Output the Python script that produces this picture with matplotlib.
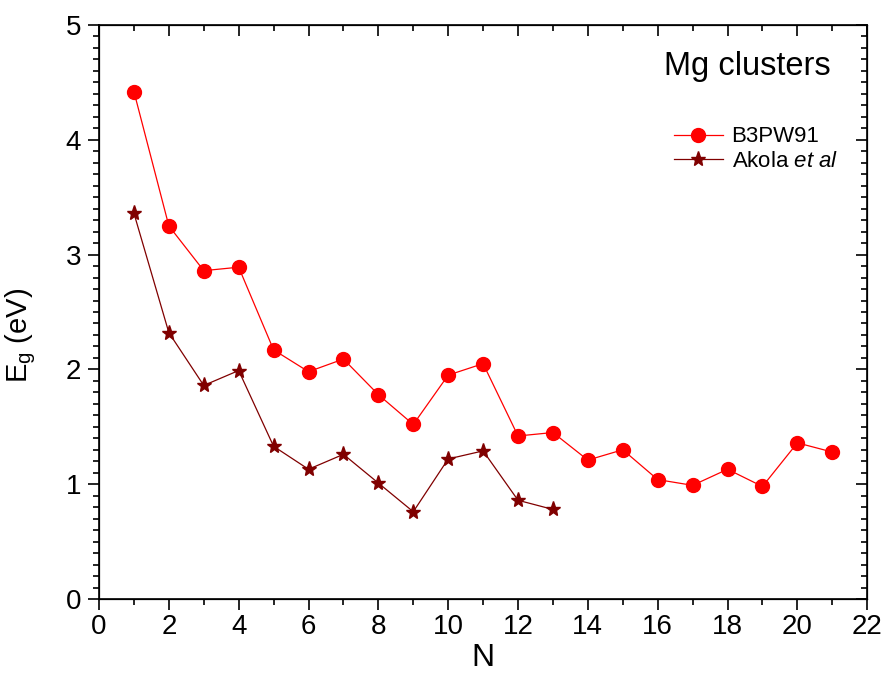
import matplotlib
matplotlib.use("Agg")
import matplotlib.pyplot as plt
from matplotlib.ticker import MultipleLocator

plt.rcParams['font.family'] = ['Liberation Sans', 'DejaVu Sans']
plt.rcParams['mathtext.fontset'] = 'custom'
plt.rcParams['mathtext.rm'] = 'Liberation Sans'
plt.rcParams['mathtext.it'] = 'Liberation Sans:italic'

n_b3 = list(range(1, 22))
eg_b3 = [4.42, 3.25, 2.86, 2.89, 2.17, 1.98, 2.09, 1.78, 1.52, 1.95, 2.05,
         1.42, 1.45, 1.21, 1.30, 1.04, 0.99, 1.13, 0.98, 1.36, 1.28]
n_ak = list(range(1, 14))
eg_ak = [3.36, 2.32, 1.86, 1.99, 1.33, 1.13, 1.26, 1.01, 0.76, 1.22, 1.29, 0.86, 0.78]

fig = plt.figure(figsize=(8.84, 6.75), dpi=100)
ax = fig.add_axes([0.112, 0.1126, 0.869, 0.8504])

ax.plot(n_b3, eg_b3, color='#ff0000', lw=0.9, marker='o', ms=10, label='B3PW91')
ax.plot(n_ak, eg_ak, color='#800000', lw=0.9, marker='*', ms=11, label='Akola $\\it{et\\ al}$')

ax.set_xlim(0, 22)
ax.set_ylim(0, 5)
ax.xaxis.set_major_locator(MultipleLocator(2))
ax.xaxis.set_minor_locator(MultipleLocator(1))
ax.yaxis.set_major_locator(MultipleLocator(1))
ax.yaxis.set_minor_locator(MultipleLocator(0.1))

for s in ax.spines.values():
    s.set_linewidth(1.2)

ax.tick_params(which='both', direction='out', top=False, right=False, labelsize=20, width=1.2)
ax.tick_params(which='major', length=8)
ax.tick_params(which='minor', length=4)
ax.tick_params(axis='x', which='major', pad=3)
ax.tick_params(axis='y', which='major', pad=5)

ax2 = ax.twinx()
ax2.set_ylim(0, 5)
ax2.yaxis.set_major_locator(MultipleLocator(1))
ax2.yaxis.set_minor_locator(MultipleLocator(0.1))
ax2.tick_params(which='both', direction='in', labelright=False, width=1.2)
ax2.tick_params(which='major', length=8)
ax2.tick_params(which='minor', length=4)
ax3 = ax.twiny()
ax3.set_xlim(0, 22)
ax3.xaxis.set_major_locator(MultipleLocator(2))
ax3.xaxis.set_minor_locator(MultipleLocator(1))
ax3.tick_params(which='both', direction='in', labeltop=False, width=1.2)
ax3.tick_params(which='major', length=8)
ax3.tick_params(which='minor', length=4)

ax.set_xlabel('N', fontsize=23, labelpad=2)
ax.set_ylabel('E$_\\mathregular{g}$ (eV)', fontsize=21)
ax.yaxis.set_label_coords(-0.079, 0.46)

ax.text(0.952, 0.927, 'Mg clusters', transform=ax.transAxes, fontsize=23.5,
        ha='right', va='center')
leg = ax.legend(loc='upper right', bbox_to_anchor=(0.988, 0.858), frameon=False,
                fontsize=16, handlelength=2.2, handletextpad=0.4, labelspacing=0.15)

fig.savefig('out.png', dpi=100)
